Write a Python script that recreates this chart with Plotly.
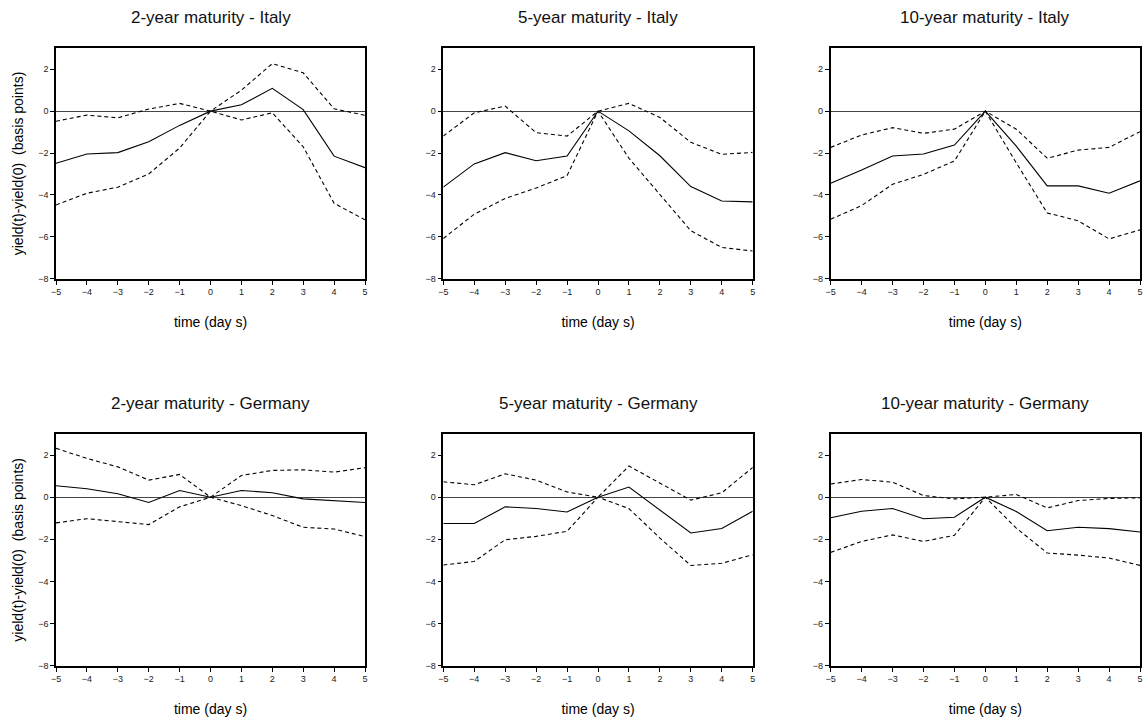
import plotly.graph_objects as go

days = [-5, -4, -3, -2, -1, 0, 1, 2, 3, 4, 5]
x_ticks = [-5, -4, -3, -2, -1, 0, 1, 2, 3, 4, 5]
y_ticks = [-8, -6, -4, -2, 0, 2]

titles = ["2-year maturity - Italy", "5-year maturity - Italy", "10-year maturity - Italy",
          "2-year maturity - Germany", "5-year maturity - Germany", "10-year maturity - Germany"]

# Italy 2-year
it2_mean = [-2.49, -2.05, -1.98, -1.46, -0.68, 0.0, 0.30, 1.09, 0.07, -2.15, -2.70]
it2_up = [-0.48, -0.19, -0.32, 0.10, 0.37, 0.0, 1.00, 2.27, 1.83, 0.11, -0.20]
it2_lo = [-4.48, -3.92, -3.63, -3.00, -1.76, 0.0, -0.42, -0.08, -1.70, -4.40, -5.19]
# Italy 5-year
it5_mean = [-3.63, -2.52, -1.98, -2.37, -2.14, 0.0, -0.94, -2.13, -3.60, -4.29, -4.33]
it5_up = [-1.19, -0.08, 0.24, -1.03, -1.19, 0.0, 0.37, -0.30, -1.49, -2.06, -1.97]
it5_lo = [-6.08, -4.92, -4.17, -3.67, -3.08, 0.0, -2.25, -3.97, -5.71, -6.51, -6.68]
# Italy 10-year
it10_mean = [-3.44, -2.81, -2.14, -2.05, -1.62, 0.0, -1.67, -3.57, -3.57, -3.92, -3.33]
it10_up = [-1.73, -1.14, -0.79, -1.06, -0.86, 0.0, -0.86, -2.25, -1.86, -1.73, -0.98]
it10_lo = [-5.16, -4.51, -3.49, -3.02, -2.38, 0.0, -2.47, -4.86, -5.24, -6.10, -5.67]
# Germany 2-year
de2_mean = [0.54, 0.40, 0.16, -0.25, 0.32, 0.0, 0.32, 0.21, -0.08, -0.16, -0.25]
de2_up = [2.32, 1.84, 1.44, 0.81, 1.08, 0.0, 1.03, 1.27, 1.30, 1.19, 1.40]
de2_lo = [-1.22, -1.02, -1.16, -1.30, -0.46, 0.0, -0.40, -0.87, -1.43, -1.51, -1.87]
# Germany 5-year
de5_mean = [-1.25, -1.25, -0.46, -0.54, -0.70, 0.0, 0.48, -0.63, -1.70, -1.49, -0.67]
de5_up = [0.73, 0.59, 1.11, 0.81, 0.25, 0.0, 1.48, 0.68, -0.14, 0.21, 1.41]
de5_lo = [-3.22, -3.05, -2.02, -1.86, -1.62, 0.0, -0.54, -1.94, -3.24, -3.14, -2.73]
# Germany 10-year
de10_mean = [-0.98, -0.67, -0.54, -1.02, -0.95, 0.0, -0.68, -1.59, -1.43, -1.49, -1.65]
de10_up = [0.63, 0.84, 0.71, 0.08, -0.08, 0.0, 0.13, -0.51, -0.16, -0.06, -0.03]
de10_lo = [-2.62, -2.10, -1.79, -2.10, -1.81, 0.0, -1.47, -2.65, -2.75, -2.89, -3.24]

panels = [
    (it2_mean, it2_up, it2_lo), (it5_mean, it5_up, it5_lo), (it10_mean, it10_up, it10_lo),
    (de2_mean, de2_up, de2_lo), (de5_mean, de5_up, de5_lo), (de10_mean, de10_up, de10_lo),
]

W, H = 1145, 722
x_px = [(56, 365), (443.3, 752.7), (830.7, 1140)]
y_px = [(48.3, 278.7), (434, 665.7)]

FONT = "Liberation Sans, Arial, sans-serif"
fig = go.Figure()
layout = dict(
    width=W, height=H, margin=dict(l=0, r=0, t=0, b=0),
    paper_bgcolor="white", plot_bgcolor="white", showlegend=False,
    font=dict(family=FONT, color="black"),
)
annotations = []
for i, (mean, up, lo) in enumerate(panels):
    r, c = divmod(i, 3)
    ax = "" if i == 0 else str(i + 1)
    xa, ya = "x" + ax, "y" + ax
    xd = [x_px[c][0] / W, x_px[c][1] / W]
    yd = [(H - y_px[r][1]) / H, (H - y_px[r][0]) / H]
    for series, dash in ((up, "4px,3px"), (lo, "4px,3px"), (mean, "solid")):
        fig.add_trace(go.Scatter(x=days, y=series, mode="lines", xaxis=xa, yaxis=ya,
                                 line=dict(color="black", width=1.1, dash=dash),
                                 hoverinfo="skip"))
    axis_common = dict(showline=True, linecolor="black", linewidth=1.6, mirror=True,
                       ticks="outside", ticklen=4, tickcolor="black", tickwidth=1,
                       showgrid=False, automargin=False,
                       tickfont=dict(family=FONT, size=9, color="#222"))
    layout["xaxis" + ax] = dict(
        axis_common, domain=xd, range=[-5, 5], tickmode="array", tickvals=x_ticks,
        zeroline=False, anchor=ya,
        title=dict(text="time (day s)", font=dict(family=FONT, size=14), standoff=21),
    )
    yax = dict(
        axis_common, domain=yd, range=[-8, 3], tickmode="array", tickvals=y_ticks,
        zeroline=True, zerolinecolor="#444", zerolinewidth=1, anchor=xa,
    )
    if c == 0:
        yax["title"] = dict(text="yield(t)-yield(0)  (basis points)",
                            font=dict(family=FONT, size=14), standoff=11)
    layout["yaxis" + ax] = yax
    annotations.append(dict(
        text=titles[i], xref="paper", yref="paper", showarrow=False,
        x=(xd[0] + xd[1]) / 2, y=(H - (y_px[r][0] - 31)) / H,
        xanchor="center", yanchor="middle", font=dict(family=FONT, size=17, color="#111"),
    ))
layout["annotations"] = annotations
fig.update_layout(**layout)
fig.write_html(
    "out.html",
    config={"displayModeBar": False},
    post_script="document.body.style.margin='0px';document.body.style.overflow='hidden';",
)
